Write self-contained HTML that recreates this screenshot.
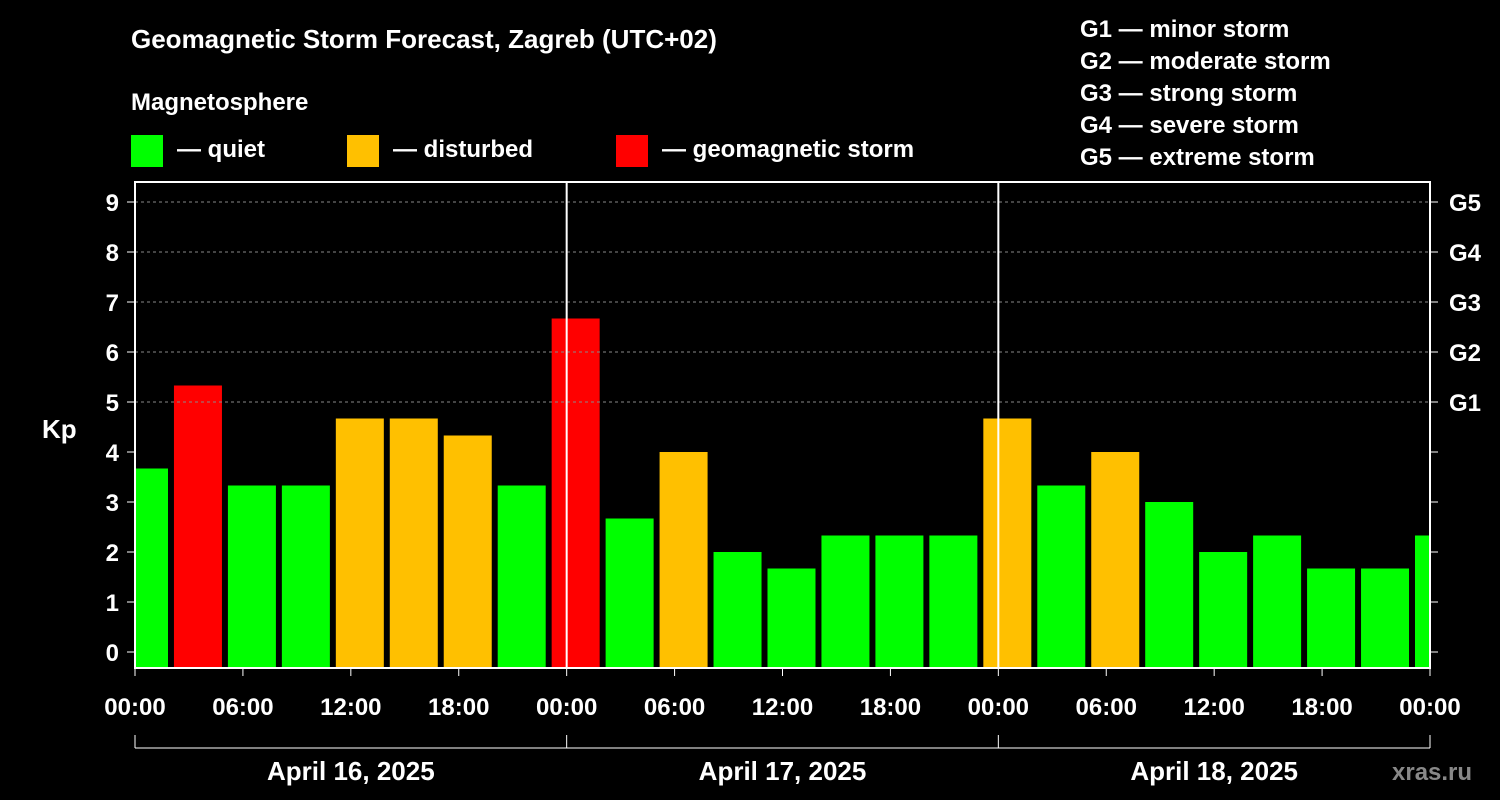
<!DOCTYPE html>
<html><head><meta charset="utf-8"><style>
body{margin:0;background:#000;}
svg{display:block;font-family:"Liberation Sans",Arial,sans-serif;font-weight:bold;}
</style></head><body>
<svg id="c" width="1500" height="800" viewBox="0 0 1500 800">
<rect width="1500" height="800" fill="#000"/>
<text x="131" y="48" fill="#fff" font-size="26">Geomagnetic Storm Forecast, Zagreb (UTC+02)</text>
<text x="131" y="110" fill="#fff" font-size="24">Magnetosphere</text>
<g><rect x="131" y="135" width="32" height="32" fill="#00ff00"/><text x="177" y="157" fill="#fff" font-size="24">— quiet</text></g>
<g><rect x="347" y="135" width="32" height="32" fill="#ffc000"/><text x="393" y="157" fill="#fff" font-size="24">— disturbed</text></g>
<g><rect x="616" y="135" width="32" height="32" fill="#ff0000"/><text x="662" y="157" fill="#fff" font-size="24">— geomagnetic storm</text></g>
<g fill="#fff" font-size="24">
<text x="1080" y="37">G1 — minor storm</text>
<text x="1080" y="69">G2 — moderate storm</text>
<text x="1080" y="101">G3 — strong storm</text>
<text x="1080" y="133">G4 — severe storm</text>
<text x="1080" y="165">G5 — extreme storm</text>
</g>
<text x="42" y="438" fill="#fff" font-size="26">Kp</text>
<text x="1392" y="780" fill="#888" font-size="24">xras.ru</text>
<g id="plot"></g>
</svg>
<script>
const kpValues=[3.67,5.33,3.33,3.33,4.67,4.67,4.33,3.33,6.67,2.67,4.0,2.0,1.67,2.33,2.33,2.33,4.67,3.33,4.0,3.0,2.0,2.33,1.67,1.67,2.33];
const yTicks=[0,1,2,3,4,5,6,7,8,9];
const gLabels=["G1","G2","G3","G4","G5"];
const xTickLabels=["00:00","06:00","12:00","18:00","00:00","06:00","12:00","18:00","00:00","06:00","12:00","18:00","00:00"];
const dayLabels=["April 16, 2025","April 17, 2025","April 18, 2025"];
const NS="http://www.w3.org/2000/svg";
const L=135,R=1430,T=182,B=668;
const pxH=(R-L)/72;
const xs=h=>L+h*pxH;
const ys=v=>652-50*v;
const g=document.getElementById('plot');
function el(t,a,p){const e=document.createElementNS(NS,t);for(const k in a)e.setAttribute(k,a[k]);(p||g).appendChild(e);return e;}
const cp=el('clipPath',{id:'clip'});el('rect',{x:L,y:T,width:R-L,height:B-T},cp);
const bars=el('g',{'clip-path':'url(#clip)'});


kpValues.forEach((v,i)=>{
 const c=xs(0.5+3*i);
 const col=v>=5?'#ff0000':(v>=4?'#ffc000':'#00ff00');
 const r=el('rect',{x:c-24,y:ys(v),width:48,height:B-ys(v),fill:col},bars);
 
 
});
yTicks.forEach(v=>{
 const y=ys(v);
 if(v>=5){const d=el('line',{x1:L,x2:R,y1:y,y2:y,stroke:'#888','stroke-dasharray':'3,3','stroke-width':1});
  
  }
 el('line',{x1:L-8,x2:L,y1:y,y2:y,stroke:'#fff','stroke-width':1});
 el('line',{x1:R,x2:R+8,y1:y,y2:y,stroke:'#fff','stroke-width':1});
 const t=el('text',{x:L-16,y:y+9,fill:'#fff','font-size':24,'text-anchor':'end'});t.textContent=v;
 
 
 if(v>=5){const gt=el('text',{x:R+19,y:y+9,fill:'#fff','font-size':24});gt.textContent=gLabels[v-5];
  
  }
});
[1,2].forEach(d=>{el('line',{x1:xs(24*d),x2:xs(24*d),y1:T,y2:B,stroke:'#fff','stroke-width':2});});
const fr=el('rect',{x:L,y:T,width:R-L,height:B-T,fill:'none',stroke:'#fff','stroke-width':2});


xTickLabels.forEach((s,i)=>{
 const x=xs(6*i);
 el('line',{x1:x,x2:x,y1:B,y2:B+8,stroke:'#fff','stroke-width':1});
 const t=el('text',{x:x,y:715,fill:'#fff','font-size':24,'text-anchor':'middle'});t.textContent=s;
 
 
});
el('line',{x1:L,x2:R,y1:748,y2:748,stroke:'#fff','stroke-width':1});
[0,1,2,3].forEach(d=>el('line',{x1:xs(24*d),x2:xs(24*d),y1:735,y2:748,stroke:'#fff','stroke-width':1}));
dayLabels.forEach((s,i)=>{
 const t=el('text',{x:xs(24*i+12),y:780,fill:'#fff','font-size':26,'text-anchor':'middle'});t.textContent=s;
 
 
});
</script>
</body></html>
